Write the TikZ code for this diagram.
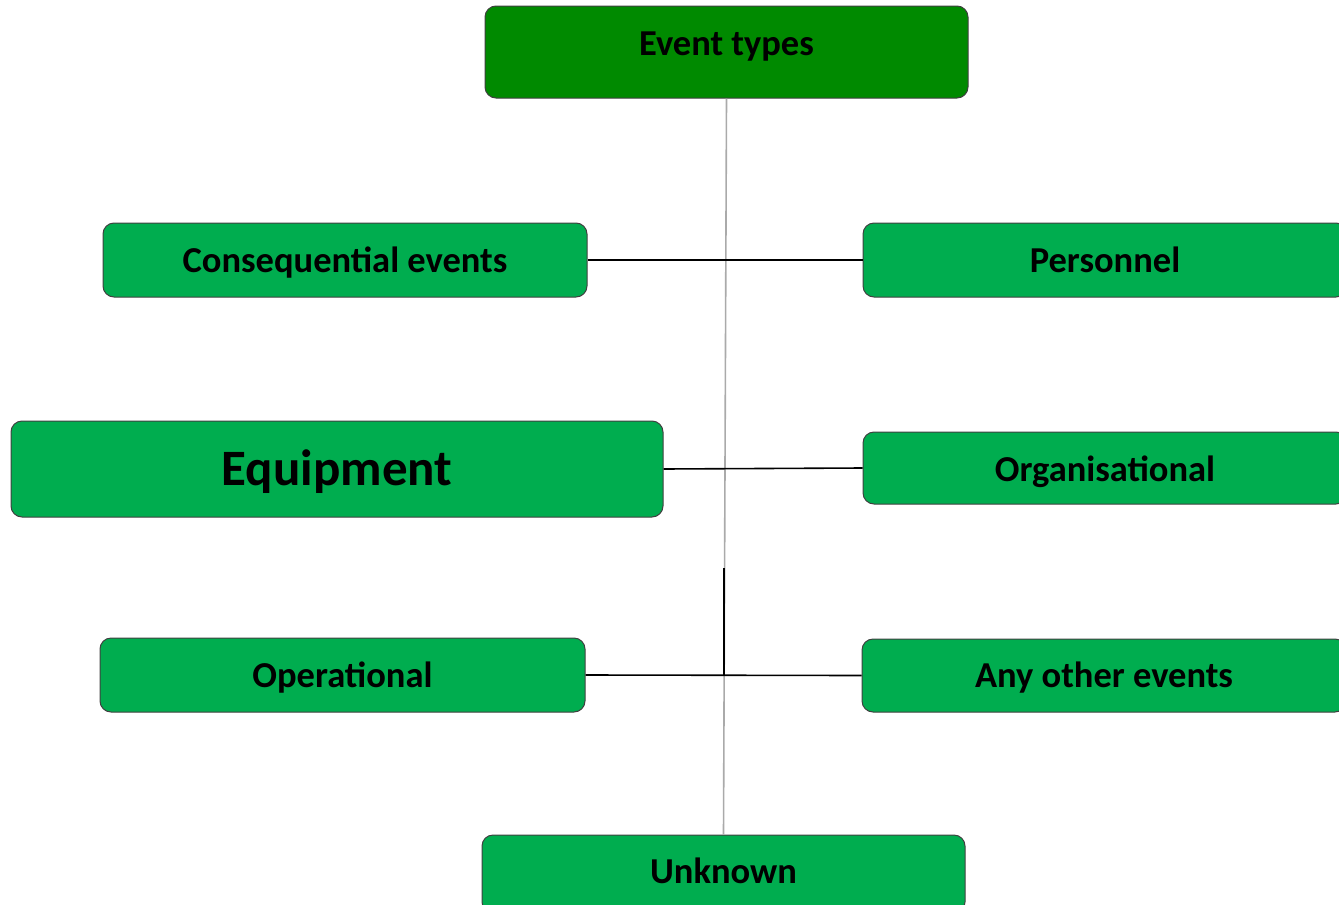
\documentclass[tikz,border=0pt]{standalone}
\usepackage{fontspec}
\setmainfont{Carlito}
\definecolor{darkg}{HTML}{008A00}
\definecolor{midg}{HTML}{00AD4F}
\definecolor{conn}{HTML}{AAAAAA}
\begin{document}
\begin{tikzpicture}[x=1pt,y=-1pt,
  box/.style={draw=black!75, line width=1pt, rounded corners=11pt, fill=midg, inner sep=0pt, font=\bfseries\fontsize{36.5}{40}\selectfont, text=black, text height=26pt, text depth=2pt},
  link/.style={draw=black, line width=1.6pt},
  trunk/.style={draw=conn, line width=1.6pt}]
\useasboundingbox (0,0) rectangle (1339,905);
\node[box, fill=darkg, minimum width=483pt, minimum height=92pt, text height=14pt, text depth=8pt] (top) at (726.5,52) {Event types};
\node[box, minimum width=484pt, minimum height=74pt] (cons) at (345,260) {Consequential events};
\node[box, minimum width=484pt, minimum height=74pt] (pers) at (1105,260) {Personnel};
\node[box, minimum width=652pt, minimum height=96pt, font=\bfseries\fontsize{51}{56}\selectfont, text height=36pt, text depth=4pt] (equip) at (337,469) {Equipment};
\node[box, minimum width=484pt, minimum height=72pt, text height=28pt, text depth=1pt] (org) at (1105,468) {Organisational};
\node[box, minimum width=485pt, minimum height=74pt] (oper) at (342.5,675) {Operational};
\node[box, minimum width=484pt, minimum height=73pt] (any) at (1104,675.5) {Any other events};
\node[box, minimum width=483pt, minimum height=78pt, text height=22pt, text depth=4pt] (unk) at (723.5,874) {Unknown};
\coordinate (j3) at (724,675);
\coordinate (b3) at (724,568);
\draw[trunk] (top.south) -- (unk.north);
\draw[link] (cons.east) -- (pers.west);
\draw[link] (equip.east) -- (org.west);
\draw[link] (oper.east) -- (any.west);
\draw[link] (b3) -- (j3);
\end{tikzpicture}
\end{document}
